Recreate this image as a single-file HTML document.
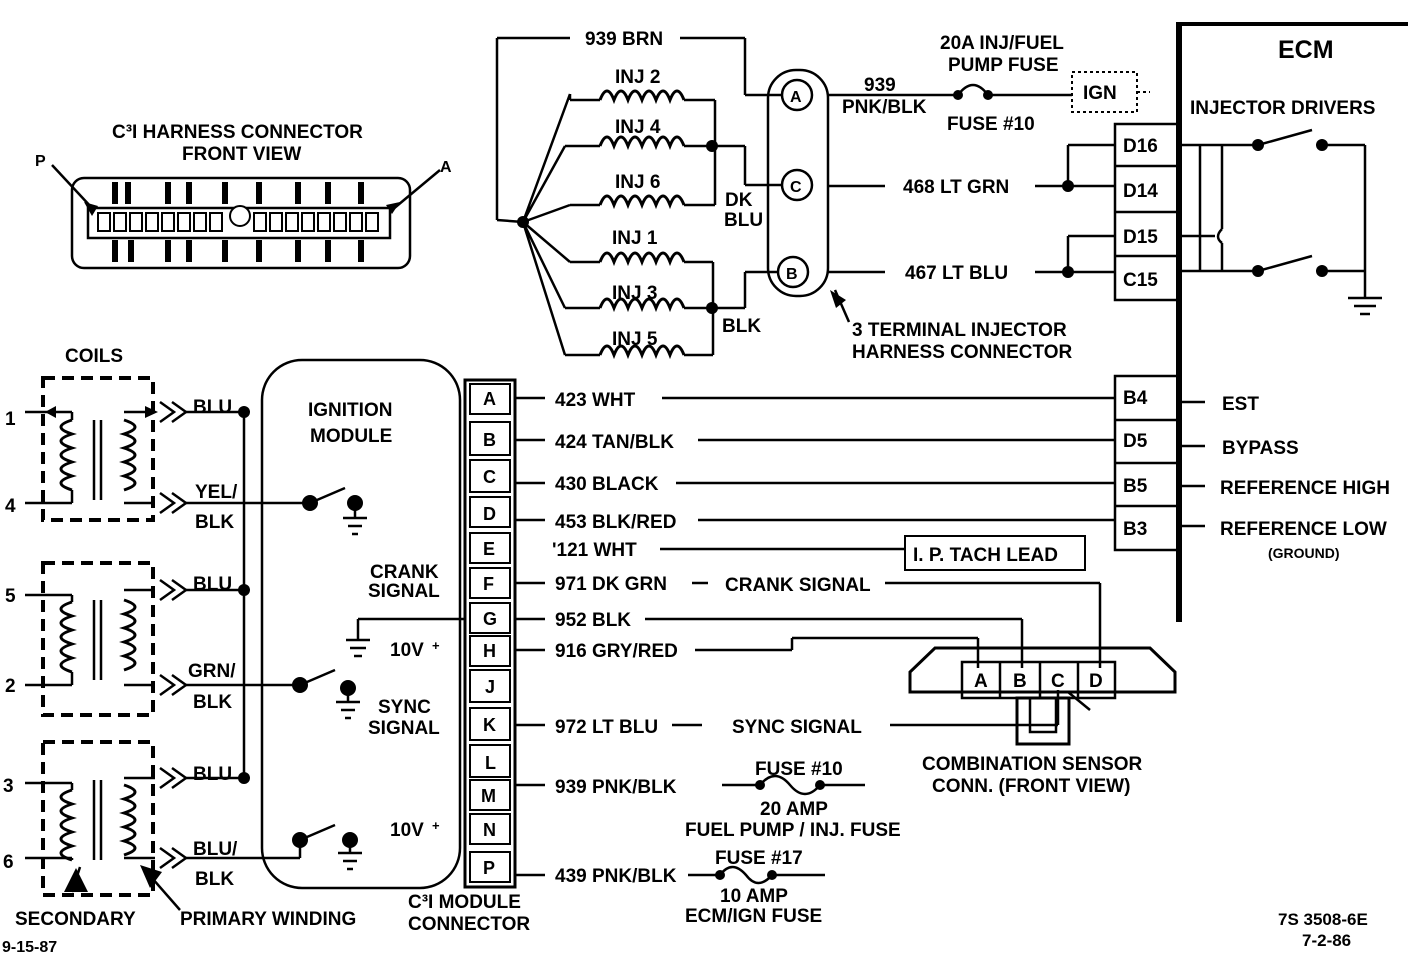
<!DOCTYPE html>
<html><head><meta charset="utf-8"><style>
html,body{margin:0;padding:0;background:#fff;}
svg{display:block}
text{font-family:"Liberation Sans",sans-serif;font-weight:bold;font-size:19px;fill:#000}
</style></head><body>
<svg width="1408" height="970" viewBox="0 0 1408 970" xmlns="http://www.w3.org/2000/svg">
<defs>
<path id="coil" d="M0,0 q7,-18 14,0 q7,-18 14,0 q7,-18 14,0 q7,-18 14,0 q7,-18 14,0 q7,-18 14,0" fill="none" stroke="#000" stroke-width="3"/>
<path id="vcoil" d="M0,0 q-22,7 0,14 q-22,7 0,14 q-22,7 0,14 q-22,7 0,14 q-22,7 0,14" fill="none" stroke="#000" stroke-width="3"/>
<path id="vcoilr" d="M0,0 q22,7 0,14 q22,7 0,14 q22,7 0,14 q22,7 0,14 q22,7 0,14" fill="none" stroke="#000" stroke-width="3"/>
</defs>
<g stroke="#000" stroke-width="2.5" fill="none">
<line x1="1179" y1="22" x2="1179" y2="622" stroke-width="6"/>
<line x1="1179" y1="24" x2="1408" y2="24" stroke-width="4"/>
<rect x="1115" y="124" width="63" height="176"/>
<line x1="1115" y1="166" x2="1178" y2="166"/><line x1="1115" y1="212" x2="1178" y2="212"/><line x1="1115" y1="256" x2="1178" y2="256"/>
<rect x="1115" y="376" width="63" height="174"/>
<line x1="1115" y1="420" x2="1178" y2="420"/><line x1="1115" y1="463" x2="1178" y2="463"/><line x1="1115" y1="506" x2="1178" y2="506"/>
<line x1="1179" y1="402" x2="1205" y2="402"/><line x1="1179" y1="446" x2="1205" y2="446"/><line x1="1179" y1="486" x2="1205" y2="486"/><line x1="1179" y1="526" x2="1205" y2="526"/>
<line x1="1179" y1="145" x2="1258" y2="145"/><line x1="1258" y1="145" x2="1312" y2="130"/><line x1="1322" y1="145" x2="1365" y2="145"/>
<line x1="1365" y1="145" x2="1365" y2="295"/>
<line x1="1179" y1="271" x2="1258" y2="271"/><line x1="1258" y1="271" x2="1312" y2="256"/><line x1="1322" y1="271" x2="1365" y2="271"/>
<line x1="1200" y1="145" x2="1200" y2="271"/>
<line x1="1222" y1="145" x2="1222" y2="229"/><path d="M1222,229 q-8,8 0,14"/><line x1="1222" y1="243" x2="1222" y2="271"/>
<line x1="1179" y1="236" x2="1215" y2="236"/>
<line x1="1348" y1="298" x2="1382" y2="298"/><line x1="1354" y1="306" x2="1376" y2="306"/><line x1="1360" y1="314" x2="1370" y2="314"/>
<line x1="1365" y1="295" x2="1365" y2="298"/>
<line x1="1068" y1="145" x2="1115" y2="145"/><line x1="1068" y1="145" x2="1068" y2="186"/>
<line x1="1035" y1="186" x2="1115" y2="186"/>
<line x1="1068" y1="236" x2="1115" y2="236"/><line x1="1068" y1="236" x2="1068" y2="272"/>
<line x1="1035" y1="272" x2="1115" y2="272"/>
<line x1="828" y1="186" x2="885" y2="186"/><line x1="828" y1="272" x2="885" y2="272"/>
<line x1="828" y1="95" x2="958" y2="95"/>
<path d="M958,95 q15,-20 30,0"/>
<line x1="988" y1="95" x2="1072" y2="95"/>
<rect x="1072" y="72" width="65" height="40" stroke-dasharray="3,3" stroke-width="2"/>
<line x1="1137" y1="92" x2="1150" y2="92" stroke-dasharray="3,3" stroke-width="2"/>
<rect x="768" y="70" width="60" height="226" rx="28"/>
<circle cx="797" cy="95" r="15"/><circle cx="797" cy="185" r="15"/><circle cx="793" cy="272" r="15"/>
<path d="M835,290 l14,32"/>
<line x1="497" y1="38" x2="570" y2="38"/><line x1="680" y1="38" x2="745" y2="38"/>
<line x1="745" y1="38" x2="745" y2="95"/><line x1="745" y1="95" x2="782" y2="95"/>
<line x1="497" y1="38" x2="497" y2="220"/><line x1="497" y1="220" x2="523" y2="222"/>
<path d="M523,222 L570,94 M523,222 L565,146 M523,222 L570,205 M523,222 L570,262 M523,222 L565,308 M523,222 L565,355"/>
<line x1="570" y1="94" x2="570" y2="100"/>
<line x1="570" y1="100" x2="600" y2="100"/><line x1="684" y1="100" x2="715" y2="100"/>
<line x1="565" y1="146" x2="600" y2="146"/><line x1="684" y1="146" x2="745" y2="146"/>
<line x1="570" y1="205" x2="600" y2="205"/><line x1="684" y1="205" x2="715" y2="205"/>
<line x1="715" y1="100" x2="715" y2="205"/>
<line x1="745" y1="146" x2="745" y2="185"/><line x1="745" y1="185" x2="782" y2="185"/>
<line x1="570" y1="262" x2="600" y2="262"/><line x1="684" y1="262" x2="713" y2="262"/>
<line x1="565" y1="308" x2="600" y2="308"/><line x1="684" y1="308" x2="745" y2="308"/>
<line x1="565" y1="355" x2="600" y2="355"/><line x1="684" y1="355" x2="713" y2="355"/>
<line x1="713" y1="262" x2="713" y2="355"/>
<line x1="745" y1="308" x2="745" y2="272"/><line x1="745" y1="272" x2="778" y2="272"/>
<rect x="72" y="178" width="338" height="90" rx="12"/>
<rect x="88" y="208" width="302" height="30"/>
<line x1="52" y1="165" x2="92" y2="208"/><line x1="440" y1="170" x2="392" y2="210"/>
<rect x="43" y="378" width="110" height="142" stroke-dasharray="12,7" stroke-width="4"/>
<rect x="43" y="563" width="110" height="152" stroke-dasharray="12,7" stroke-width="4"/>
<rect x="43" y="742" width="110" height="153" stroke-dasharray="12,7" stroke-width="4"/>
<line x1="25" y1="412" x2="72" y2="412"/><line x1="25" y1="503" x2="72" y2="503"/>
<line x1="25" y1="595" x2="72" y2="595"/><line x1="25" y1="685" x2="72" y2="685"/>
<line x1="25" y1="783" x2="72" y2="783"/><line x1="25" y1="858" x2="72" y2="858"/>
<line x1="72" y1="412" x2="72" y2="420"/><line x1="72" y1="490" x2="72" y2="503"/>
<line x1="72" y1="595" x2="72" y2="602"/><line x1="72" y1="672" x2="72" y2="685"/>
<line x1="72" y1="783" x2="72" y2="790"/><line x1="72" y1="860" x2="72" y2="858"/>
<line x1="94" y1="420" x2="94" y2="500"/><line x1="101" y1="420" x2="101" y2="500"/>
<line x1="94" y1="600" x2="94" y2="680"/><line x1="101" y1="600" x2="101" y2="680"/>
<line x1="94" y1="780" x2="94" y2="860"/><line x1="101" y1="780" x2="101" y2="860"/>
<line x1="124" y1="412" x2="155" y2="412"/><line x1="124" y1="503" x2="155" y2="503"/>
<line x1="124" y1="590" x2="155" y2="590"/><line x1="124" y1="685" x2="155" y2="685"/>
<line x1="124" y1="778" x2="155" y2="778"/><line x1="124" y1="858" x2="155" y2="858"/>
<path d="M160,402 l14,10 l-14,10 M172,402 l14,10 l-14,10"/>
<path d="M160,493 l14,10 l-14,10 M172,493 l14,10 l-14,10"/>
<path d="M160,580 l14,10 l-14,10 M172,580 l14,10 l-14,10"/>
<path d="M160,675 l14,10 l-14,10 M172,675 l14,10 l-14,10"/>
<path d="M160,768 l14,10 l-14,10 M172,768 l14,10 l-14,10"/>
<path d="M160,848 l14,10 l-14,10 M172,848 l14,10 l-14,10"/>
<line x1="186" y1="412" x2="244" y2="412"/><line x1="186" y1="590" x2="244" y2="590"/><line x1="186" y1="778" x2="244" y2="778"/>
<line x1="244" y1="412" x2="244" y2="778"/>
<line x1="186" y1="503" x2="310" y2="503"/><line x1="186" y1="685" x2="300" y2="685"/><line x1="186" y1="858" x2="300" y2="858"/>
<line x1="300" y1="858" x2="300" y2="840"/>
<path d="M72,892 l8,-25"/><path d="M180,910 l-35,-40"/>
<rect x="262" y="360" width="198" height="528" rx="40"/>
<line x1="310" y1="503" x2="345" y2="488"/><line x1="355" y1="503" x2="355" y2="518"/>
<line x1="300" y1="685" x2="335" y2="670"/><line x1="348" y1="688" x2="348" y2="702"/>
<line x1="300" y1="840" x2="335" y2="825"/><line x1="350" y1="840" x2="350" y2="853"/>
<line x1="343" y1="518" x2="367" y2="518"/><line x1="348" y1="526" x2="362" y2="526"/><line x1="352" y1="534" x2="358" y2="534"/>
<line x1="336" y1="702" x2="360" y2="702"/><line x1="341" y1="710" x2="355" y2="710"/><line x1="345" y1="718" x2="351" y2="718"/>
<line x1="338" y1="853" x2="362" y2="853"/><line x1="343" y1="861" x2="357" y2="861"/><line x1="347" y1="869" x2="353" y2="869"/>
<line x1="358" y1="619" x2="465" y2="619"/><line x1="358" y1="619" x2="358" y2="640"/>
<line x1="346" y1="640" x2="370" y2="640"/><line x1="350" y1="648" x2="366" y2="648"/><line x1="354" y1="656" x2="362" y2="656"/>
<rect x="465" y="380" width="50" height="507" stroke-width="3"/>
<g stroke-width="2">
<rect x="470" y="384" width="40" height="30"/><rect x="470" y="422" width="40" height="33"/>
<rect x="470" y="460" width="40" height="32"/><rect x="470" y="497" width="40" height="30"/>
<rect x="470" y="533" width="40" height="30"/><rect x="470" y="568" width="40" height="30"/>
<rect x="470" y="603" width="40" height="30"/><rect x="470" y="636" width="40" height="30"/>
<rect x="470" y="670" width="40" height="32"/><rect x="470" y="708" width="40" height="32"/>
<rect x="470" y="745" width="40" height="32"/><rect x="470" y="780" width="40" height="30"/>
<rect x="470" y="814" width="40" height="30"/><rect x="470" y="852" width="40" height="30"/>
</g>
<line x1="515" y1="398" x2="545" y2="398"/><line x1="515" y1="440" x2="545" y2="440"/>
<line x1="515" y1="483" x2="545" y2="483"/><line x1="515" y1="520" x2="545" y2="520"/>
<line x1="515" y1="583" x2="545" y2="583"/><line x1="515" y1="619" x2="545" y2="619"/>
<line x1="515" y1="650" x2="545" y2="650"/><line x1="515" y1="725" x2="545" y2="725"/>
<line x1="515" y1="785" x2="545" y2="785"/><line x1="515" y1="875" x2="545" y2="875"/>
<line x1="662" y1="398" x2="1115" y2="398"/><line x1="698" y1="440" x2="1115" y2="440"/>
<line x1="676" y1="483" x2="1115" y2="483"/><line x1="698" y1="520" x2="1115" y2="520"/>
<line x1="660" y1="549" x2="905" y2="549"/>
<rect x="905" y="536" width="180" height="34" stroke-width="2"/>
<line x1="692" y1="583" x2="708" y2="583"/><line x1="885" y1="583" x2="1100" y2="583"/>
<line x1="1100" y1="583" x2="1100" y2="668"/>
<line x1="645" y1="619" x2="1022" y2="619"/><line x1="1022" y1="619" x2="1022" y2="668"/>
<line x1="695" y1="650" x2="792" y2="650"/><line x1="792" y1="650" x2="792" y2="638"/>
<line x1="792" y1="638" x2="978" y2="638"/><line x1="978" y1="638" x2="978" y2="668"/>
<line x1="672" y1="725" x2="702" y2="725"/><line x1="890" y1="725" x2="1058" y2="725"/><line x1="1058" y1="725" x2="1058" y2="690"/>
<path d="M1068,692 l22,18"/>
<path d="M910,692 L910,672 L935,648 L1150,648 L1175,672 L1175,692 Z" stroke-width="3"/>
<rect x="962" y="662" width="153" height="36"/>
<line x1="1000" y1="662" x2="1000" y2="698"/><line x1="1040" y1="662" x2="1040" y2="698"/><line x1="1078" y1="662" x2="1078" y2="698"/>
<rect x="1017" y="698" width="52" height="46" stroke-width="3"/>
<rect x="1030" y="698" width="26" height="34"/>
<line x1="722" y1="785" x2="760" y2="785"/><path d="M760,785 q15,-18 30,0 q15,18 30,0"/><line x1="820" y1="785" x2="865" y2="785"/>
<line x1="688" y1="875" x2="720" y2="875"/><path d="M720,875 q12,-16 26,0 q12,16 26,0"/><line x1="772" y1="875" x2="825" y2="875"/>
</g>
<use href="#coil" x="600" y="100"/><use href="#coil" x="600" y="146"/><use href="#coil" x="600" y="205"/>
<use href="#coil" x="600" y="262"/><use href="#coil" x="600" y="308"/><use href="#coil" x="600" y="355"/>
<use href="#vcoil" x="72" y="420"/><use href="#vcoilr" x="124" y="420"/>
<use href="#vcoil" x="72" y="602"/><use href="#vcoilr" x="124" y="600"/>
<use href="#vcoil" x="72" y="790"/><use href="#vcoilr" x="124" y="785"/>
<g fill="#000">
<circle cx="523" cy="222" r="6"/><circle cx="712" cy="146" r="6"/><circle cx="712" cy="308" r="6"/>
<circle cx="958" cy="95" r="5"/><circle cx="988" cy="95" r="5"/>
<circle cx="1068" cy="186" r="6"/><circle cx="1068" cy="272" r="6"/>
<circle cx="1258" cy="145" r="6"/><circle cx="1322" cy="145" r="6"/><circle cx="1258" cy="271" r="6"/><circle cx="1322" cy="271" r="6"/>
<circle cx="244" cy="412" r="6"/><circle cx="244" cy="590" r="6"/><circle cx="244" cy="778" r="6"/>
<circle cx="310" cy="503" r="8"/><circle cx="355" cy="503" r="8"/>
<circle cx="300" cy="685" r="8"/><circle cx="348" cy="688" r="8"/>
<circle cx="300" cy="840" r="8"/><circle cx="350" cy="840" r="8"/>
<circle cx="760" cy="785" r="5"/><circle cx="820" cy="785" r="5"/><circle cx="720" cy="875" r="5"/><circle cx="772" cy="875" r="5"/>
<polygon points="88,892 64,892 76,868"/><polygon points="140,865 162,872 150,888"/>
<polygon points="830,290 846,300 836,308"/>
<polygon points="45,412 56,406 56,418"/><polygon points="158,412 145,406 145,418"/>
<polygon points="84,202 98,206 92,216"/><polygon points="400,202 392,214 386,205"/>
</g>
<g fill="none" stroke="#000" stroke-width="2">
<rect x="98" y="213" width="12" height="18"/><rect x="114" y="213" width="12" height="18"/><rect x="130" y="213" width="12" height="18"/><rect x="146" y="213" width="12" height="18"/><rect x="162" y="213" width="12" height="18"/><rect x="178" y="213" width="12" height="18"/><rect x="194" y="213" width="12" height="18"/><rect x="210" y="213" width="12" height="18"/>
<rect x="254" y="213" width="12" height="18"/><rect x="270" y="213" width="12" height="18"/><rect x="286" y="213" width="12" height="18"/><rect x="302" y="213" width="12" height="18"/><rect x="318" y="213" width="12" height="18"/><rect x="334" y="213" width="12" height="18"/><rect x="350" y="213" width="12" height="18"/><rect x="366" y="213" width="12" height="18"/>
<circle cx="240" cy="216" r="10" fill="#fff"/>
</g>
<g fill="#000">
<rect x="112" y="182" width="6" height="22"/><rect x="125" y="182" width="6" height="22"/><rect x="165" y="182" width="6" height="22"/><rect x="186" y="182" width="6" height="22"/><rect x="222" y="182" width="6" height="22"/><rect x="256" y="182" width="6" height="22"/><rect x="295" y="182" width="6" height="22"/><rect x="325" y="182" width="6" height="22"/><rect x="358" y="182" width="6" height="22"/>
<rect x="112" y="240" width="6" height="22"/><rect x="128" y="240" width="6" height="22"/><rect x="165" y="240" width="6" height="22"/><rect x="186" y="240" width="6" height="22"/><rect x="222" y="240" width="6" height="22"/><rect x="256" y="240" width="6" height="22"/><rect x="295" y="240" width="6" height="22"/><rect x="325" y="240" width="6" height="22"/><rect x="358" y="240" width="6" height="22"/>
</g>
<text x="1278" y="58" style="font-size:25px">ECM</text>
<text x="1190" y="114">INJECTOR DRIVERS</text>
<text x="1123" y="152">D16</text><text x="1123" y="197">D14</text><text x="1123" y="243">D15</text><text x="1123" y="286">C15</text>
<text x="1123" y="404">B4</text><text x="1123" y="447">D5</text><text x="1123" y="492">B5</text><text x="1123" y="535">B3</text>
<text x="1222" y="410">EST</text><text x="1222" y="454">BYPASS</text><text x="1220" y="494">REFERENCE HIGH</text><text x="1220" y="535">REFERENCE LOW</text>
<text x="1268" y="558" style="font-size:14px">(GROUND)</text>
<text x="940" y="49">20A INJ/FUEL</text><text x="948" y="71">PUMP FUSE</text>
<text x="864" y="91">939</text><text x="842" y="113">PNK/BLK</text>
<text x="947" y="130">FUSE #10</text>
<text x="1083" y="99">IGN</text>
<text x="790" y="102" style="font-size:16px">A</text><text x="790" y="192" style="font-size:16px">C</text><text x="786" y="279" style="font-size:16px">B</text>
<text x="903" y="193">468 LT GRN</text><text x="905" y="279">467 LT BLU</text>
<text x="852" y="336">3 TERMINAL INJECTOR</text><text x="852" y="358">HARNESS CONNECTOR</text>
<text x="585" y="45">939 BRN</text>
<text x="615" y="83">INJ 2</text><text x="615" y="133">INJ 4</text><text x="615" y="188">INJ 6</text>
<text x="612" y="244">INJ 1</text><text x="612" y="299">INJ 3</text><text x="612" y="345">INJ 5</text>
<text x="725" y="206">DK</text><text x="724" y="226">BLU</text><text x="722" y="332">BLK</text>
<text x="112" y="138">C³I HARNESS CONNECTOR</text><text x="182" y="160">FRONT VIEW</text>
<text x="35" y="166" style="font-size:16px">P</text><text x="440" y="172" style="font-size:16px">A</text>
<text x="65" y="362">COILS</text>
<text x="5" y="425">1</text><text x="5" y="512">4</text><text x="5" y="602">5</text><text x="5" y="692">2</text><text x="3" y="792">3</text><text x="3" y="868">6</text>
<text x="193" y="413">BLU</text><text x="195" y="498">YEL/</text><text x="195" y="528">BLK</text>
<text x="193" y="590">BLU</text><text x="188" y="677">GRN/</text><text x="193" y="708">BLK</text>
<text x="193" y="780">BLU</text><text x="193" y="855">BLU/</text><text x="195" y="885">BLK</text>
<text x="15" y="925">SECONDARY</text><text x="180" y="925">PRIMARY WINDING</text>
<text x="2" y="952" style="font-size:16px">9-15-87</text>
<text x="308" y="416">IGNITION</text><text x="310" y="442">MODULE</text>
<text x="370" y="578">CRANK</text><text x="368" y="597">SIGNAL</text>
<text x="390" y="656">10V</text><text x="432" y="650" style="font-size:13px">+</text>
<text x="378" y="713">SYNC</text><text x="368" y="734">SIGNAL</text>
<text x="390" y="836">10V</text><text x="432" y="830" style="font-size:13px">+</text>
<text x="408" y="908">C³I MODULE</text><text x="408" y="930">CONNECTOR</text>
<g style="font-size:18px">
<text x="483" y="405" style="font-size:18px">A</text><text x="483" y="446" style="font-size:18px">B</text><text x="483" y="483" style="font-size:18px">C</text><text x="483" y="520" style="font-size:18px">D</text>
<text x="483" y="555" style="font-size:18px">E</text><text x="483" y="590" style="font-size:18px">F</text><text x="483" y="625" style="font-size:18px">G</text><text x="483" y="657" style="font-size:18px">H</text>
<text x="485" y="693" style="font-size:18px">J</text><text x="483" y="731" style="font-size:18px">K</text><text x="485" y="769" style="font-size:18px">L</text><text x="481" y="802" style="font-size:18px">M</text>
<text x="483" y="836" style="font-size:18px">N</text><text x="483" y="874" style="font-size:18px">P</text>
</g>
<text x="555" y="406">423 WHT</text><text x="555" y="448">424 TAN/BLK</text><text x="555" y="490">430 BLACK</text>
<text x="555" y="528">453 BLK/RED</text><text x="552" y="556">'121 WHT</text><text x="555" y="590">971 DK GRN</text>
<text x="725" y="591">CRANK SIGNAL</text>
<text x="555" y="626">952 BLK</text><text x="555" y="657">916 GRY/RED</text><text x="555" y="733">972 LT BLU</text>
<text x="732" y="733">SYNC SIGNAL</text>
<text x="555" y="793">939 PNK/BLK</text><text x="555" y="882">439 PNK/BLK</text>
<text x="913" y="561">I. P. TACH LEAD</text>
<text x="974" y="687">A</text><text x="1013" y="687">B</text><text x="1051" y="687">C</text><text x="1089" y="687">D</text>
<text x="922" y="770">COMBINATION SENSOR</text><text x="932" y="792">CONN. (FRONT VIEW)</text>
<text x="755" y="775">FUSE #10</text><text x="760" y="815">20 AMP</text><text x="685" y="836">FUEL PUMP / INJ. FUSE</text>
<text x="715" y="864">FUSE #17</text><text x="720" y="902">10 AMP</text><text x="685" y="922">ECM/IGN FUSE</text>
<text x="1278" y="925" style="font-size:17px">7S 3508-6E</text><text x="1302" y="946" style="font-size:17px">7-2-86</text>
</svg>
</body></html>
